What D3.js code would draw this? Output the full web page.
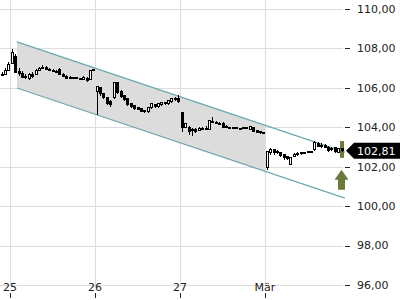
<!DOCTYPE html>
<html lang="de">
<head>
<meta charset="UTF-8">
<title>Kursverlauf</title>
<script src="https://d3js.org/d3.v7.min.js"></script>
<style>
  body { margin: 0; background: #fff; }
  svg { display: block; font-family: "DejaVu Sans", sans-serif; }
  .grid line { stroke: #dddddd; stroke-width: 1; shape-rendering: crispEdges; }
  .tick-label { font-size: 11px; fill: #222; }
</style>
</head>
<body>
<svg width="400" height="300"></svg>
<script>
// x values are days counted from the 25th
const dayLabels = ["25", "26", "27", "Mär"];
const yTicks = [96, 98, 100, 102, 104, 106, 108, 110];

// candles: first at t = -0.1, one every 0.04 day  [open, high, low, close]
const candleStart = -0.1, candleStep = 0.04;
const candles = [
  [106.7, 106.8, 106.6, 106.7], [106.7, 107.0, 106.65, 106.9], [106.9, 107.3, 106.85, 107.2],
  [107.25, 107.95, 107.2, 107.8], [107.6, 107.7, 106.75, 106.8], [106.85, 107.0, 106.6, 106.75],
  [106.75, 106.85, 106.5, 106.55], [106.6, 106.7, 106.45, 106.55], [106.45, 106.75, 106.4, 106.7],
  [106.7, 106.8, 106.5, 106.6], [106.7, 106.95, 106.65, 106.9], [106.9, 107.05, 106.85, 107.0],
  [107.0, 107.15, 106.95, 107.05], [107.05, 107.1, 106.9, 106.95], [106.95, 107.0, 106.85, 106.9],
  [106.9, 106.95, 106.8, 106.85], [106.85, 106.9, 106.78, 106.8], [106.95, 107.0, 106.65, 106.7],
  [106.7, 106.75, 106.55, 106.6], [106.6, 106.65, 106.45, 106.5], [106.55, 106.6, 106.45, 106.5],
  [106.5, 106.55, 106.48, 106.52], [106.52, 106.54, 106.48, 106.5], [106.5, 106.52, 106.48, 106.5],
  [106.4, 106.58, 106.38, 106.55], [106.5, 106.55, 106.3, 106.35], [106.4, 106.92, 106.38, 106.9],
  [106.9, 106.93, 106.88, 106.92], [105.8, 106.05, 104.62, 106.05], [106.0, 106.05, 105.6, 105.7],
  [105.7, 105.75, 105.45, 105.5], [105.5, 105.55, 105.15, 105.2], [105.3, 105.4, 105.05, 105.15],
  [105.5, 106.3, 105.45, 106.25], [106.25, 106.3, 105.7, 105.75], [105.8, 105.9, 105.5, 105.55],
  [105.6, 105.65, 105.35, 105.4], [105.45, 105.5, 105.1, 105.15], [105.2, 105.25, 105.0, 105.05],
  [105.1, 105.15, 104.9, 104.95], [105.0, 105.05, 104.88, 104.9], [104.95, 105.0, 104.77, 104.8],
  [104.85, 104.9, 104.72, 104.78], [104.78, 105.03, 104.72, 105.0], [105.0, 105.25, 104.95, 105.2],
  [105.15, 105.2, 105.0, 105.05], [105.05, 105.23, 105.0, 105.2], [105.15, 105.3, 105.1, 105.25],
  [105.25, 105.3, 105.15, 105.2], [105.2, 105.4, 105.15, 105.35], [105.3, 105.5, 105.25, 105.45],
  [105.45, 105.55, 105.35, 105.4], [105.45, 105.64, 105.25, 105.3], [104.75, 104.8, 103.76, 104.0],
  [104.0, 104.22, 103.95, 104.2], [104.0, 104.05, 103.6, 103.8], [103.85, 103.95, 103.55, 103.9],
  [103.9, 103.95, 103.7, 103.8], [103.85, 104.0, 103.8, 103.95], [103.9, 104.02, 103.85, 103.95],
  [103.95, 104.05, 103.85, 103.9], [103.9, 104.37, 103.85, 104.35], [104.3, 104.5, 104.2, 104.25],
  [104.25, 104.3, 104.18, 104.2], [104.2, 104.25, 104.1, 104.15], [104.2, 104.25, 103.95, 104.0],
  [104.05, 104.1, 103.95, 104.0], [104.0, 104.03, 103.95, 103.98], [104.0, 104.02, 103.95, 103.97],
  [103.98, 104.02, 103.9, 103.95], [103.95, 103.98, 103.9, 103.92], [103.95, 104.0, 103.93, 103.98],
  [103.97, 104.0, 103.9, 103.93], [103.88, 104.08, 103.85, 104.05], [104.0, 104.02, 103.75, 103.8],
  [103.82, 103.85, 103.7, 103.75], [103.78, 103.82, 103.68, 103.72], [103.72, 103.75, 103.65, 103.7],
  [101.95, 102.8, 101.83, 102.75], [102.7, 102.95, 102.6, 102.85], [102.85, 102.9, 102.6, 102.7],
  [102.7, 102.85, 102.65, 102.75], [102.7, 102.75, 102.5, 102.55], [102.6, 102.65, 102.35, 102.45],
  [102.5, 102.55, 102.35, 102.4], [102.1, 102.48, 102.08, 102.45], [102.5, 102.7, 102.5, 102.6],
  [102.6, 102.75, 102.55, 102.65], [102.65, 102.75, 102.6, 102.7], [102.7, 102.75, 102.68, 102.72],
  [102.72, 102.8, 102.68, 102.75], [102.78, 102.8, 102.76, 102.78], [102.85, 103.32, 102.82, 103.25],
  [103.2, 103.25, 103.0, 103.05], [103.05, 103.2, 102.95, 103.1], [103.1, 103.15, 102.95, 103.0],
  [103.0, 103.05, 102.75, 102.8], [102.85, 103.0, 102.8, 102.9], [102.95, 103.0, 102.7, 102.75],
  [102.72, 102.95, 102.68, 102.9], [102.9, 102.95, 102.75, 102.81]
];

// trend channel: [t, upper, lower]
const channelStart = [0.082, 108.33, 105.99];
const channelEnd = [3.94, 102.74, 100.41];
const channelFillEnd = 3;

const lastPrice = 102.81;
const highlightRange = [102.45, 103.3];

const svg = d3.select("svg");

const x = d3.scaleLinear().domain([0, 3]).range([10, 265]);
const y = d3.scaleLinear().domain([96, 110]).range([285, 9]);
const fmt = d3.formatLocale({ decimal: ",", thousands: ".", grouping: [3], currency: ["", "€"] }).format(".2f");

// grid
const grid = svg.append("g").attr("class", "grid");
grid.selectAll(".h").data(yTicks).enter().append("line")
    .attr("x1", 0).attr("x2", 343)
    .attr("y1", d => Math.round(y(d)) + 0.5).attr("y2", d => Math.round(y(d)) + 0.5);
grid.selectAll(".v").data(dayLabels).enter().append("line")
    .attr("x1", (d, i) => Math.round(x(i)) + 0.5).attr("x2", (d, i) => Math.round(x(i)) + 0.5)
    .attr("y1", 0).attr("y2", 285);

// channel
const chanAt = (t, k) => channelStart[k] + (channelEnd[k] - channelStart[k]) * (t - channelStart[0]) / (channelEnd[0] - channelStart[0]);
const fillPts = [
    [x(channelStart[0]), y(channelStart[1])],
    [x(channelFillEnd), y(chanAt(channelFillEnd, 1))],
    [x(channelFillEnd), y(chanAt(channelFillEnd, 2))],
    [x(channelStart[0]), y(channelStart[2])]
];
svg.append("polygon")
   .attr("points", fillPts.map(p => p.join(",")).join(" "))
   .attr("fill", "#dcdcdc");

[1, 2].forEach(k => {
    svg.append("line")
       .attr("x1", x(channelStart[0])).attr("y1", y(channelStart[k]))
       .attr("x2", x(channelEnd[0])).attr("y2", y(channelEnd[k]))
       .attr("stroke", "#6aa9ad").attr("stroke-width", 1.2);
});

// highlight bar at last candle
const lastT = candleStart + candleStep * (candles.length - 1);
svg.append("rect")
   .attr("x", Math.round(x(lastT)) - 2).attr("width", 4)
   .attr("y", y(highlightRange[1])).attr("height", y(highlightRange[0]) - y(highlightRange[1]))
   .attr("fill", "#6b7b3a");

// candles
const cg = svg.append("g").attr("shape-rendering", "crispEdges");
candles.forEach((c, i) => {
    const cx = Math.round(x(candleStart + candleStep * i));
    const [o, h, l, cl] = c;
    cg.append("line")
      .attr("x1", cx + 0.5).attr("x2", cx + 0.5)
      .attr("y1", y(h)).attr("y2", y(l))
      .attr("stroke", "#000");
    const top = y(Math.max(o, cl)), bot = y(Math.min(o, cl));
    cg.append("rect")
      .attr("x", cx - 0.5).attr("width", 2)
      .attr("y", top).attr("height", Math.max(1, bot - top))
      .attr("fill", cl >= o ? "#fff" : "#000")
      .attr("stroke", "#000").attr("stroke-width", 1);
});

// up arrow
const ax = x(lastT), ay = y(lastPrice) + 19;
svg.append("path")
   .attr("d", `M${ax - 7},${ay + 10} L${ax},${ay} L${ax + 7},${ay + 10} L${ax + 3.5},${ay + 10} L${ax + 3.5},${ay + 20} L${ax - 3.5},${ay + 20} L${ax - 3.5},${ay + 10} Z`)
   .attr("fill", "#6b7b3a");

// y axis
const ya = svg.append("g");
ya.selectAll("line").data(yTicks).enter().append("line")
  .attr("x1", 345).attr("x2", 350)
  .attr("y1", d => Math.round(y(d)) + 0.5).attr("y2", d => Math.round(y(d)) + 0.5)
  .attr("stroke", "#222");
ya.selectAll("text").data(yTicks).enter().append("text")
  .attr("class", "tick-label")
  .attr("x", 357).attr("y", d => y(d)).attr("dy", "0.35em")
  .text(d => fmt(d));

// x axis
const xa = svg.append("g");
xa.selectAll("line").data(dayLabels).enter().append("line")
  .attr("x1", (d, i) => Math.round(x(i)) + 0.5).attr("x2", (d, i) => Math.round(x(i)) + 0.5)
  .attr("y1", 293).attr("y2", 298)
  .attr("stroke", "#222");
xa.selectAll("text").data(dayLabels).enter().append("text")
  .attr("class", "tick-label")
  .attr("x", (d, i) => x(i)).attr("y", 291)
  .attr("text-anchor", "middle")
  .text(d => d);

// last price tag
const py = y(lastPrice);
svg.append("path")
   .attr("d", `M346,${py} L354,${py - 8} L400,${py - 8} L400,${py + 8} L354,${py + 8} Z`)
   .attr("fill", "#000");
svg.append("text")
   .attr("class", "tick-label")
   .attr("x", 357).attr("y", py).attr("dy", "0.35em")
   .style("fill", "#fff")
   .text(fmt(lastPrice));
</script>
</body>
</html>
